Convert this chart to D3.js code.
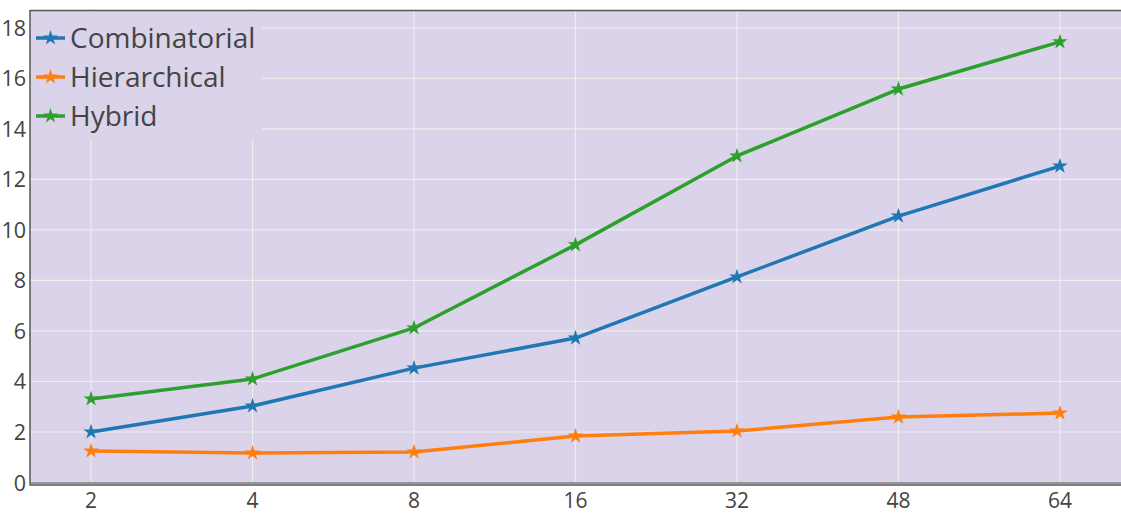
<!DOCTYPE html>
<html><head><meta charset="utf-8">
<script src="https://cdn.jsdelivr.net/npm/d3@7"></script>
<style>body{margin:0;background:#fff;} svg{display:block;font-family:"Open Sans",sans-serif;}</style>
</head><body>
<svg id="c" width="1121" height="514"></svg>
<script>
const categories = ["2","4","8","16","32","48","64"];
const seriesNames = ["Combinatorial","Hierarchical","Hybrid"];
const combinatorial = [2.0,3.03,4.53,5.72,8.14,10.55,12.53];
const hierarchical = [1.25,1.17,1.21,1.84,2.04,2.59,2.75];
const hybrid = [3.31,4.10,6.12,9.41,12.93,15.58,17.45];
const yTicks = [0,2,4,6,8,10,12,14,16,18];
const colors = ["#1f77b4","#ff7f0e","#2ca02c"];
const series = [combinatorial, hierarchical, hybrid];

const svg = d3.select("#c");
const L=30, R=1121, T=11, B=482.5;
const x = d3.scalePoint().domain(categories).range([L,R]).padding(0.378);
const y = d3.scaleLinear().domain([0,18.67]).range([B,T]);

svg.append("rect").attr("x",L).attr("y",T).attr("width",R-L).attr("height",B-T).attr("fill","#dad3e9");

// grid
svg.append("g").selectAll("line").data(yTicks.filter(d=>d>0)).join("line")
 .attr("x1",L).attr("x2",R).attr("y1",d=>y(d)).attr("y2",d=>y(d)).attr("stroke","#eeeeee").attr("stroke-width",1.2);
svg.append("g").selectAll("line").data(categories).join("line")
 .attr("x1",d=>x(d)).attr("x2",d=>x(d)).attr("y1",T).attr("y2",B).attr("stroke","#eeeeee").attr("stroke-width",1.2);

// legend bg
const lg = svg.append("g");
lg.append("rect").attr("x",L+1).attr("y",T+1).attr("width",231).attr("height",128).attr("fill","#dad3e9");

// frame
svg.append("line").attr("x1",L).attr("x2",R).attr("y1",T-0.5).attr("y2",T-0.5).attr("stroke","#555").attr("stroke-width",1.5);
svg.append("line").attr("x1",L).attr("x2",L).attr("y1",T-1).attr("y2",B+3).attr("stroke","#555").attr("stroke-width",1.5);
svg.append("line").attr("x1",L).attr("x2",R).attr("y1",B+0.5).attr("y2",B+0.5).attr("stroke","#777").attr("stroke-width",1.5);
svg.append("line").attr("x1",L).attr("x2",R).attr("y1",B+2.5).attr("y2",B+2.5).attr("stroke","#555").attr("stroke-width",1.5);

// axes labels
svg.append("g").selectAll("text").data(yTicks).join("text")
 .attr("x",L-4).attr("y",d=>y(d)+8).attr("text-anchor","end").attr("font-size",21.5).attr("fill","#444").text(d=>d);
svg.append("g").selectAll("text").data(categories).join("text")
 .attr("x",d=>x(d)).attr("y",508).attr("text-anchor","middle").attr("font-size",21).attr("fill","#444").text(d=>d);

const star = d3.symbol().type(d3.symbolStar).size(75);
const line = d3.line().x((d,i)=>x(categories[i])).y(d=>y(d));
series.forEach((s,k)=>{
  const g = svg.append("g");
  g.append("path").datum(s).attr("d",line).attr("fill","none").attr("stroke",colors[k]).attr("stroke-width",3.5).attr("stroke-linejoin","round");
  g.selectAll("path.m").data(s).join("path").attr("class","m")
   .attr("transform",(d,i)=>`translate(${x(categories[i])},${y(d)})`).attr("d",star).attr("fill",colors[k]);
});

// legend items
seriesNames.forEach((n,k)=>{
  const yy = 38 + k*39;
  lg.append("line").attr("x1",36).attr("x2",65).attr("y1",yy).attr("y2",yy).attr("stroke",colors[k]).attr("stroke-width",3.5);
  lg.append("path").attr("transform",`translate(50.5,${yy})`).attr("d",d3.symbol().type(d3.symbolStar).size(70)).attr("fill",colors[k]);
  lg.append("text").attr("x",70).attr("y",yy+10).attr("font-size",28).attr("fill","#444").text(n);
});
</script>
</body></html>
